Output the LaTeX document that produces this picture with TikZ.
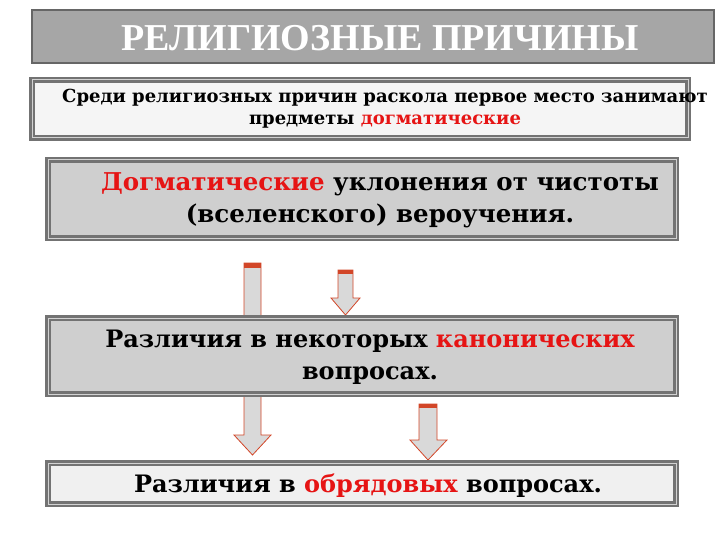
\documentclass[tikz,border=0pt]{standalone}
\usepackage{fontspec}
\setmainfont{DejaVu Serif}
\newfontfamily\titlefont{Liberation Serif}
\definecolor{rd}{RGB}{230,20,20}
\definecolor{ar}{RGB}{210,70,40}
\begin{document}
\begin{tikzpicture}[x=1pt,y=-1pt,
  box/.style={draw=gray!90!black,line width=2.2pt,double=gray!35,double distance=1pt},
  arr/.style={draw=ar,fill=gray!30,line width=0.8pt},
  txt/.style={align=center,font=\bfseries,inner sep=0pt}]
\useasboundingbox (0,0) rectangle (720,540);
\fill[gray!70,draw=gray!80!black,line width=2pt] (32,10) rectangle (714,63);
\node[txt,text=white,font=\titlefont\bfseries\fontsize{38}{40}\selectfont] (t) at (380,38) {РЕЛИГИОЗНЫЕ ПРИЧИНЫ};
\filldraw[fill=gray!8,box] (32,80) rectangle (688,138);
\node[txt,font=\bfseries\fontsize{18}{22}\selectfont] (b2) at (385,109) {Среди религиозных причин раскола первое место занимают\\предметы \textcolor{rd}{догматические}};
% long arrow
\filldraw[arr] (244,263) -- (261,263) -- (261,435) -- (271,435) -- (252.5,455) -- (234,435) -- (244,435) -- cycle;
\fill[ar] (244,263) rectangle (261,268);
\filldraw[arr] (338,270) -- (353,270) -- (353,298) -- (360,298) -- (345.5,315) -- (331,298) -- (338,298) -- cycle;
\fill[ar] (338,270) rectangle (353,274);
\filldraw[arr] (419,404) -- (437,404) -- (437,440) -- (447,440) -- (428,460) -- (410,440) -- (419,440) -- cycle;
\fill[ar] (419,404) rectangle (437,408);
\filldraw[fill=gray!38,box] (48,160) rectangle (676,238);
\node[txt,font=\bfseries\fontsize{24.5}{32}\selectfont] (b3) at (380,200) {\textcolor{rd}{Догматические} уклонения от чистоты\\(вселенского) вероучения.};
\filldraw[fill=gray!38,box] (48,318) rectangle (676,394);
\node[txt,font=\bfseries\fontsize{24}{32}\selectfont] (b4) at (370,357) {Различия в некоторых \textcolor{rd}{канонических}\\вопросах.};
\filldraw[fill=gray!12,box] (48,463) rectangle (676,504);
\node[txt,font=\bfseries\fontsize{24}{28}\selectfont] (b5) at (368,486) {Различия в \textcolor{rd}{обрядовых} вопросах.};
\end{tikzpicture}
\end{document}
